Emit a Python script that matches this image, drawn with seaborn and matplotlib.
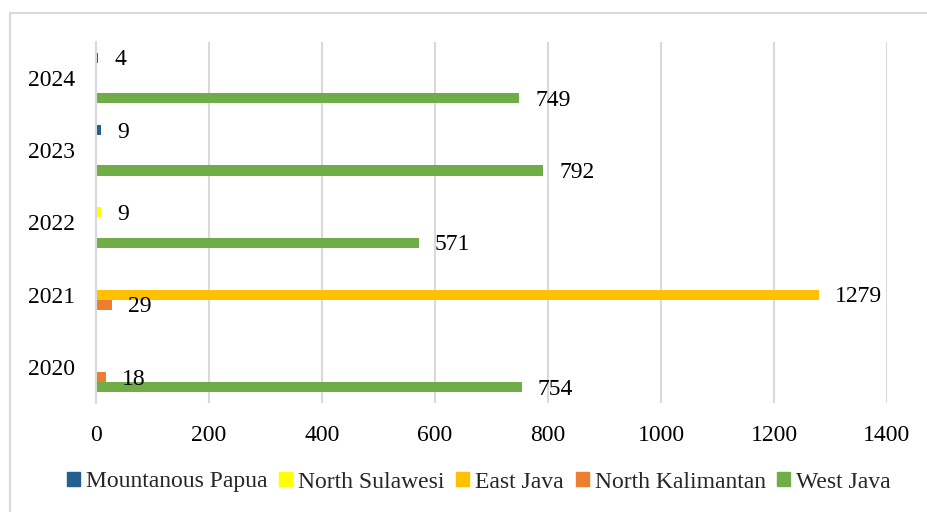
import pandas as pd
import seaborn as sns
import matplotlib.pyplot as plt
from matplotlib.lines import Line2D

# chart data
years = ['2024', '2023', '2022', '2021', '2020']
provinces = ['Mountanous Papua', 'North Sulawesi', 'East Java', 'North Kalimantan', 'West Java']
mountanous_papua = [4, 9, 0, 0, 0]
north_sulawesi = [0, 0, 9, 0, 0]
east_java = [0, 0, 0, 1279, 0]
north_kalimantan = [0, 0, 0, 29, 18]
west_java = [749, 792, 571, 0, 754]
colors = ['#255E91', '#FFFF00', '#FFC000', '#ED7D31', '#70AD47']

values = [mountanous_papua, north_sulawesi, east_java, north_kalimantan, west_java]
rows = []
for prov, vals in zip(provinces, values):
    for y, v in zip(years, vals):
        rows.append({'year': y, 'province': prov, 'count': v})
df = pd.DataFrame(rows)

sns.set_style('white')
plt.rcParams['font.family'] = ['Liberation Serif', 'DejaVu Serif']

fig = plt.figure(figsize=(9.27, 5.12), dpi=100)
ax = fig.add_axes([96 / 927, 109 / 512, 791 / 927, 361 / 512])

sns.barplot(data=df, x='count', y='year', hue='province', order=years,
            hue_order=provinces, palette=colors, orient='h', width=0.7,
            saturation=1, errorbar=None, linewidth=0, ax=ax, legend=True)

# data labels, skip empty bars
for cont in ax.containers:
    for b in cont:
        w = b.get_width()
        if w == 0:
            continue
        ax.annotate(f'{int(w)}', (w, b.get_y() + b.get_height() / 2),
                    xytext=(11.5, -1.5), textcoords='offset points',
                    ha='left', va='center', fontsize=17, color='black')

ax.set_xlim(0, 1400)
ax.set_ylim(4.5, -0.5)
ax.set_xticks(range(0, 1401, 200))
ax.set_xlabel('')
ax.set_ylabel('')
ax.tick_params(axis='both', labelsize=17, length=0, colors='black')
ax.tick_params(axis='x', pad=16)
ax.tick_params(axis='y', pad=15)
ax.grid(axis='x', color='#D9D9D9', linewidth=1.5)
ax.set_axisbelow(True)
for s in ['top', 'right', 'bottom']:
    ax.spines[s].set_visible(False)
ax.spines['left'].set_color('#D9D9D9')
ax.spines['left'].set_linewidth(1.5)

ax.get_legend().remove()
handles = [plt.Rectangle((0, 0), 1, 1, color=c) for c in colors]
fig.legend(handles, provinces, loc='center', bbox_to_anchor=(479 / 927, 30 / 512),
           ncol=5, frameon=False, fontsize=17, handlelength=0.55, handleheight=0.55,
           handletextpad=0.25, columnspacing=0.5)

# chart border (top and left only visible)
fig.add_artist(Line2D([10 / 927, 10 / 927], [0, 1 - 13 / 512], color='#D9D9D9', lw=1.5))
fig.add_artist(Line2D([10 / 927, 1], [1 - 13 / 512, 1 - 13 / 512], color='#D9D9D9', lw=1.5))

fig.savefig('out.png', dpi=100)
